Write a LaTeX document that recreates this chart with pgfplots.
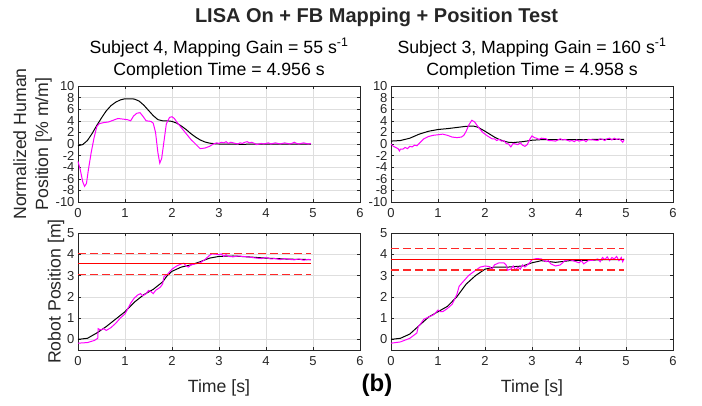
\documentclass[border=0pt]{standalone}
\usepackage{fontspec}
\setmainfont{Liberation Sans}
\usepackage{pgfplots}
\pgfplotsset{compat=1.18}
\definecolor{axgray}{gray}{0.15}
\definecolor{gridgray}{gray}{0.87}
\definecolor{mag}{RGB}{255,0,255}
\definecolor{tgtred}{RGB}{255,0,0}
\definecolor{dashred}{RGB}{255,40,40}

\pgfplotsset{
  matax/.style={
    scale only axis, width=282pt,
    xmin=0, xmax=6, xtick={0,...,6},
    grid=major, grid style={gridgray, line width=0.6pt},
    axis line style={draw=axgray, line width=0.6pt},
    tick style={axgray, line width=0.6pt}, tick align=inside, major tick length=3pt,
    ticklabel style={font=\fontsize{13}{13}\selectfont, text=axgray},
    xticklabel style={yshift=-3pt},
    /pgf/number format/assume math mode=true,
    label style={font=\fontsize{17.7}{22}\selectfont, text=axgray},
    title style={font=\fontsize{17.7}{22.5}\selectfont, text=black, align=center,
      inner sep=0pt, at={(0.5,1)}, anchor=south, yshift=0.5pt},
    clip=false,
  },
  upperax/.style={matax, height=116pt, ymin=-10, ymax=10, ytick={-10,-8,...,10}},
  lowerax/.style={matax, height=117pt, ymin=-0.5, ymax=5, ytick={0,...,5},
    xlabel={Time [s]},
    xlabel style={at={(axis description cs:0.5,0)}, anchor=base, yshift=-42pt}},
  humline/.style={color=mag, solid, line width=1pt, no markers},
  refline/.style={color=black, solid, line width=1pt, no markers},
  tgtline/.style={color=tgtred, solid, line width=1.2pt, no markers},
  tolline/.style={color=dashred, line width=1.2pt, no markers, dash pattern=on 8pt off 4pt},
}

\begin{document}
\begin{tikzpicture}
\path[use as bounding box] (0,0) rectangle (702pt,-405pt);

\node[anchor=base, font=\fontsize{20}{20}\selectfont\bfseries, text=axgray] at (376.5pt,-22pt)
  {LISA On + FB Mapping + Position Test};

% top left
\begin{axis}[upperax, at={(78pt,-202pt)}, anchor=south west,
  title={Subject 4, Mapping Gain = 55 s\textsuperscript{-1}\\Completion Time = 4.956 s},
  ylabel={Normalized Human\\Position [\% m/m]},
  ylabel style={align=center, at={(axis description cs:-0.092,0.5)}, anchor=south, inner sep=0pt}]
\addplot[refline] coordinates {(0,-0.3) (0.1,-0.1) (0.2,0.6) (0.3,1.8) (0.4,3.2) (0.5,4.5) (0.6,5.7) (0.7,6.6) (0.8,7.2) (0.9,7.6) (1.0,7.8) (1.1,7.8) (1.2,7.75) (1.3,7.4) (1.4,6.7) (1.5,5.8) (1.6,4.9) (1.7,4.2) (1.8,4.0) (1.9,4.0) (2.0,3.9) (2.1,3.6) (2.2,3.1) (2.3,2.5) (2.4,1.8) (2.5,1.2) (2.6,0.7) (2.7,0.35) (2.8,0.15) (2.9,0.05) (3.0,0) (3.5,-0.05) (4.0,0) (4.5,0) (4.956,0)};
\addplot[humline] coordinates {(0,-3.0) (0.05,-4.5) (0.1,-6.5) (0.14,-7.3) (0.18,-6.8) (0.22,-4.5) (0.28,-1.5) (0.34,1.0) (0.40,3.0) (0.45,3.5) (0.55,3.7) (0.65,3.8) (0.75,4.1) (0.85,4.4) (0.95,4.3) (1.05,4.2) (1.12,4.0) (1.18,4.8) (1.25,5.3) (1.32,5.4) (1.38,4.8) (1.45,4.0) (1.55,3.9) (1.6,3.6) (1.65,2.0) (1.70,-1.5) (1.74,-3.3) (1.78,-2.5) (1.83,0.5) (1.88,3.5) (1.95,4.6) (2.0,4.7) (2.05,4.4) (2.12,3.6) (2.2,2.8) (2.3,1.8) (2.4,0.8) (2.5,0.0) (2.6,-0.8) (2.7,-0.7) (2.8,-0.4) (2.88,0.0) (2.95,0.2) (3.0,0.1) (3.05,0.3) (3.1,0.2) (3.15,0.4) (3.2,0.1) (3.25,0.3) (3.3,0.2) (3.35,0.1) (3.4,0.0) (3.45,0.2) (3.5,0.1) (3.55,0.3) (3.6,0.4) (3.65,0.2) (3.7,0.3) (3.75,0.1) (3.8,-0.1) (3.85,0.0) (3.9,0.1) (3.95,0.0) (4.0,0.1) (4.05,0.2) (4.1,0.0) (4.15,0.1) (4.2,0.2) (4.25,0.1) (4.3,0.0) (4.35,0.1) (4.4,0.2) (4.45,0.1) (4.5,0.0) (4.55,0.1) (4.6,0.3) (4.65,0.1) (4.7,0.0) (4.75,0.1) (4.8,0.2) (4.85,0.1) (4.9,0.0) (4.956,0.1)};
\end{axis}

% top right
\begin{axis}[upperax, at={(391pt,-202pt)}, anchor=south west,
  title={Subject 3, Mapping Gain = 160 s\textsuperscript{-1}\\Completion Time = 4.958 s}]
\addplot[refline] coordinates {(0,0.5) (0.2,0.6) (0.4,1.0) (0.6,1.7) (0.8,2.2) (1.0,2.5) (1.2,2.65) (1.4,2.85) (1.6,3.05) (1.75,3.1) (1.85,2.9) (2.0,2.2) (2.1,1.7) (2.2,1.2) (2.3,0.8) (2.4,0.5) (2.5,0.3) (2.6,0.25) (2.8,0.4) (3.0,0.65) (3.2,0.75) (3.5,0.75) (4.0,0.75) (4.5,0.8) (4.958,0.8)};
\addplot[humline] coordinates {(0,0.0) (0.05,-0.4) (0.1,-0.6) (0.15,-0.8) (0.18,-1.2) (0.2,-0.9) (0.25,-0.9) (0.3,-0.6) (0.35,-0.8) (0.4,-0.4) (0.45,-0.5) (0.5,-0.2) (0.55,-0.3) (0.6,0.1) (0.65,0.5) (0.7,0.9) (0.8,1.3) (0.9,1.5) (1.0,1.6) (1.1,1.7) (1.2,1.5) (1.3,1.2) (1.4,1.1) (1.5,1.2) (1.55,1.5) (1.6,2.2) (1.65,3.2) (1.72,4.1) (1.78,3.8) (1.85,3.0) (1.95,2.0) (2.05,1.4) (2.15,0.9) (2.2,0.9) (2.25,0.6) (2.3,0.8) (2.35,0.5) (2.4,0.6) (2.45,0.1) (2.5,0.0) (2.55,-0.5) (2.6,0.1) (2.65,0.0) (2.7,-0.1) (2.75,0.2) (2.8,-0.2) (2.85,-0.4) (2.9,-0.1) (2.95,0.8) (3.0,1.4) (3.05,1.1) (3.1,1.0) (3.15,0.8) (3.2,1.0) (3.3,0.9) (3.35,0.6) (3.4,0.6) (3.5,0.5) (3.55,0.7) (3.6,0.9) (3.65,0.7) (3.7,0.8) (3.8,0.5) (3.85,0.6) (3.9,0.4) (3.95,0.7) (4.0,0.5) (4.1,0.7) (4.15,0.4) (4.2,0.8) (4.3,0.7) (4.4,0.6) (4.45,0.9) (4.5,0.8) (4.55,0.6) (4.6,0.9) (4.65,1.0) (4.7,0.7) (4.75,1.0) (4.8,0.8) (4.85,0.9) (4.9,0.6) (4.93,0.3) (4.958,0.7)};
\end{axis}

% bottom left
\begin{axis}[lowerax, at={(78pt,-350pt)}, anchor=south west,
  ylabel={Robot Position [m]},
  ylabel style={at={(axis description cs:-0.048,0.5)}, anchor=south, inner sep=0pt}]
\addplot[refline] coordinates {(0,0) (0.2,0.05) (0.4,0.3) (0.6,0.6) (0.8,0.95) (1.0,1.3) (1.2,1.75) (1.4,2.1) (1.6,2.35) (1.8,2.7) (1.9,3.0) (2.0,3.2) (2.2,3.4) (2.4,3.5) (2.6,3.65) (2.8,3.82) (3.0,3.9) (3.3,3.92) (3.6,3.88) (4.0,3.82) (4.5,3.77) (4.956,3.75)};
\addplot[humline] coordinates {(0,-0.18) (0.2,-0.15) (0.35,-0.05) (0.42,0.05) (0.43,0.5) (0.48,0.45) (0.55,0.5) (0.6,0.42) (0.7,0.55) (0.8,0.75) (0.9,1.0) (1.0,1.2) (1.05,1.4) (1.12,1.7) (1.2,1.95) (1.28,2.1) (1.33,2.15) (1.38,2.05) (1.45,2.15) (1.5,2.3) (1.55,2.25) (1.6,2.15) (1.65,2.3) (1.75,2.45) (1.8,2.6) (1.83,2.95) (1.9,3.05) (2.0,3.3) (2.1,3.45) (2.2,3.55) (2.25,3.58) (2.3,3.45) (2.35,3.4) (2.4,3.5) (2.5,3.55) (2.6,3.6) (2.7,3.75) (2.8,3.95) (2.85,4.02) (2.95,4.0) (3.0,3.98) (3.05,4.02) (3.1,3.9) (3.15,3.98) (3.2,3.9) (3.3,3.88) (3.4,3.92) (3.5,3.9) (3.6,3.88) (3.7,3.85) (3.8,3.82) (3.9,3.8) (4.0,3.85) (4.1,3.78) (4.2,3.8) (4.3,3.75) (4.4,3.8) (4.5,3.76) (4.6,3.74) (4.7,3.78) (4.8,3.72) (4.9,3.76) (4.956,3.74)};
\addplot[tgtline] coordinates {(0,3.55) (4.956,3.55)};
\addplot[tolline] coordinates {(0,4.05) (4.956,4.05)};
\addplot[tolline] coordinates {(0,3.05) (4.956,3.05)};
\end{axis}

% bottom right
\begin{axis}[lowerax, at={(391pt,-350pt)}, anchor=south west]
\addplot[refline] coordinates {(0,0) (0.2,0.05) (0.4,0.25) (0.6,0.65) (0.8,1.05) (1.0,1.3) (1.2,1.55) (1.4,2.0) (1.6,2.6) (1.8,3.0) (2.0,3.3) (2.2,3.4) (2.5,3.4) (2.8,3.45) (3.0,3.6) (3.2,3.7) (3.5,3.62) (3.8,3.7) (4.2,3.72) (4.6,3.75) (4.958,3.75)};
\addplot[humline] coordinates {(0,-0.18) (0.2,-0.12) (0.4,0.05) (0.55,0.3) (0.58,0.6) (0.62,0.7) (0.7,0.95) (0.8,1.05) (0.9,1.15) (0.95,1.25) (1.0,1.38) (1.05,1.3) (1.1,1.3) (1.2,1.45) (1.3,1.65) (1.4,2.1) (1.45,2.5) (1.55,2.75) (1.65,3.0) (1.8,3.25) (1.9,3.4) (2.0,3.45) (2.1,3.42) (2.15,3.3) (2.2,3.5) (2.3,3.6) (2.4,3.6) (2.45,3.5) (2.48,3.25) (2.55,3.3) (2.6,3.45) (2.65,3.25) (2.7,3.4) (2.75,3.3) (2.8,3.5) (2.85,3.4) (2.9,3.5) (2.95,3.6) (3.0,3.75) (3.1,3.8) (3.2,3.78) (3.3,3.65) (3.35,3.7) (3.4,3.55) (3.5,3.45) (3.6,3.5) (3.7,3.7) (3.8,3.75) (3.9,3.68) (4.0,3.6) (4.05,3.7) (4.1,3.55) (4.2,3.7) (4.3,3.72) (4.4,3.78) (4.45,3.65) (4.5,3.85) (4.55,3.75) (4.6,3.88) (4.65,3.7) (4.7,3.85) (4.75,3.78) (4.8,3.9) (4.85,3.7) (4.9,3.85) (4.93,3.65) (4.958,3.8)};
\addplot[tgtline] coordinates {(0,3.76) (4.958,3.76)};
\addplot[tolline] coordinates {(0,4.26) (4.958,4.26)};
\addplot[tolline] coordinates {(0,3.26) (4.958,3.26)};
\end{axis}

\node[anchor=base, font=\fontsize{24}{24}\selectfont\bfseries, text=black] at (377pt,-391pt) {(b)};
\end{tikzpicture}
\end{document}
